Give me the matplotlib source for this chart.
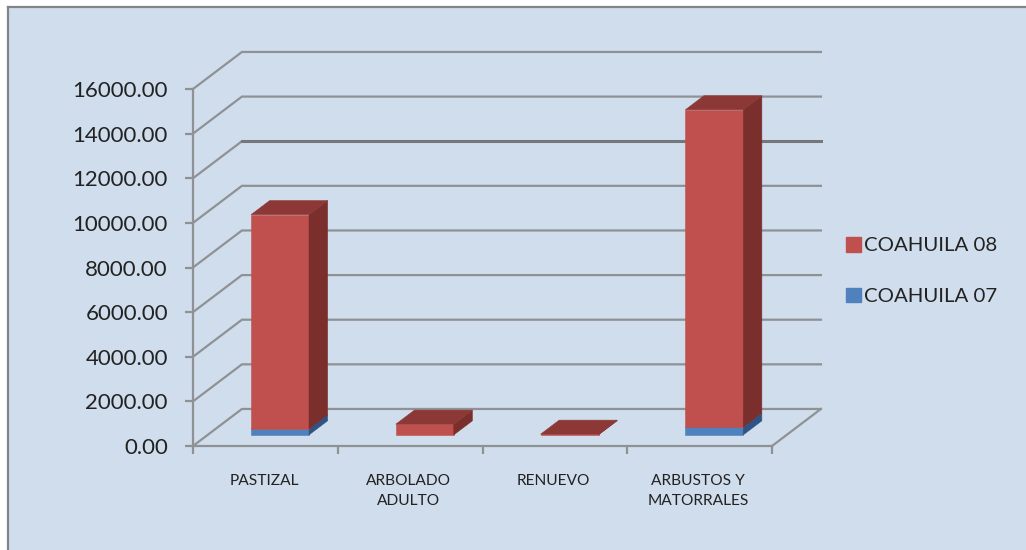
import matplotlib
matplotlib.use("Agg")
import matplotlib.pyplot as plt
from matplotlib.patches import Patch

categories = ["PASTIZAL", "ARBOLADO\nADULTO", "RENUEVO", "ARBUSTOS Y\nMATORRALES"]
coahuila_07 = [270, 0, 0, 350]
coahuila_08 = [9600, 480, 30, 14220]
y_ticks = [0, 2000, 4000, 6000, 8000, 10000, 12000, 14000, 16000]

BG = "#d0ddec"
GRID = "#8e9295"

# depth of the 3d box, in data units
DX = 0.338
DY = 1660
BAR_W = 0.40
BAR_FRONT = 0.30
BAR_BACK = 0.68

plt.rcParams['font.family'] = ['Lato', 'DejaVu Sans']

fig = plt.figure(figsize=(10.26, 5.5), dpi=100, facecolor="white")

# panel with the grey edge on top and left
bg = fig.add_axes([8 / 1026, 0, 1 - 8 / 1026, 1 - 7 / 550])
bg.set_facecolor(BG)
bg.set_xticks([])
bg.set_yticks([])
for s in ["right", "bottom"]:
    bg.spines[s].set_visible(False)
for s in ["left", "top"]:
    bg.spines[s].set_color("#808589")
    bg.spines[s].set_linewidth(1.6)

# front plane of the chart
ax = fig.add_axes([193 / 1026, 1 - 446 / 550, 579 / 1026, 357 / 550])
ax.patch.set_alpha(0)
ax.set_xlim(0, 4)
ax.set_ylim(0, 16000)
for s in ["top", "right"]:
    ax.spines[s].set_visible(False)
for s in ["left", "bottom"]:
    ax.spines[s].set_color(GRID)
    ax.spines[s].set_linewidth(1.6)


# walls and floor
for v in y_ticks:
    ax.plot([0, DX, 4 + DX], [v, v + DY, v + DY], color=GRID, lw=1.6,
            clip_on=False, zorder=1, solid_joinstyle="miter")
# this one is heavier in the original
ax.plot([DX, 4 + DX], [12000 + DY, 12000 + DY], color="#74787b", lw=2.2, clip_on=False, zorder=1)
ax.plot([4, 4 + DX], [0, DY], color=GRID, lw=1.6, clip_on=False, zorder=1)


def box(x, y0, y1, front, side, top):
    # x is the left edge of the front face
    f = BAR_FRONT
    b = BAR_BACK
    x0 = x + f * DX
    x1 = x + BAR_W + f * DX
    xb0 = x + b * DX
    xb1 = x + BAR_W + b * DX
    yf0 = y0 + f * DY
    yf1 = y1 + f * DY
    yb0 = y0 + b * DY
    yb1 = y1 + b * DY
    ax.fill([x0, x1, x1, x0], [yf0, yf0, yf1, yf1], color=front, lw=0.4, zorder=3, clip_on=False)
    ax.fill([x1, xb1, xb1, x1], [yf0, yb0, yb1, yf1], color=side, lw=0.4, zorder=3, clip_on=False)
    ax.fill([x0, x1, xb1, xb0], [yf1, yf1, yb1, yb1], color=top, lw=0.4, zorder=3, clip_on=False)


for i in range(len(categories)):
    left = i + 0.5 - BAR_W / 2
    if coahuila_07[i] > 0:
        box(left, 0, coahuila_07[i], "#4f81bd", "#2f5383", "#3a6396")
    box(left, coahuila_07[i], coahuila_07[i] + coahuila_08[i], "#c0504d", "#7b2f2d", "#8c3836")

ax.set_yticks(y_ticks)
ax.set_yticklabels(["%.2f" % v for v in y_ticks], fontsize=16, color="#222222")
ax.set_xticks(range(5))
ax.set_xticklabels([])
ax.tick_params(axis="both", color=GRID, width=1.6, length=6)
ax.tick_params(axis="y", pad=12)

for i, c in enumerate(categories):
    ax.annotate(c, (i + 0.5, 0), xytext=(-1, -20), textcoords="offset points",
                ha="center", va="top", fontsize=11.2, color="#222222", linespacing=1.55,
                annotation_clip=False)

handles = [Patch(color="#c0504d", label="COAHUILA 08"),
           Patch(color="#4f81bd", label="COAHUILA 07")]
fig.legend(handles=handles, loc="center left", bbox_to_anchor=(840 / 1026, 1 - 271 / 550),
           frameon=False, fontsize=14.7, labelcolor="#222222", handlelength=0.75,
           handleheight=0.75, handletextpad=0.12, labelspacing=1.62, borderpad=0.3, borderaxespad=0)

fig.savefig("out.png", dpi=100)
